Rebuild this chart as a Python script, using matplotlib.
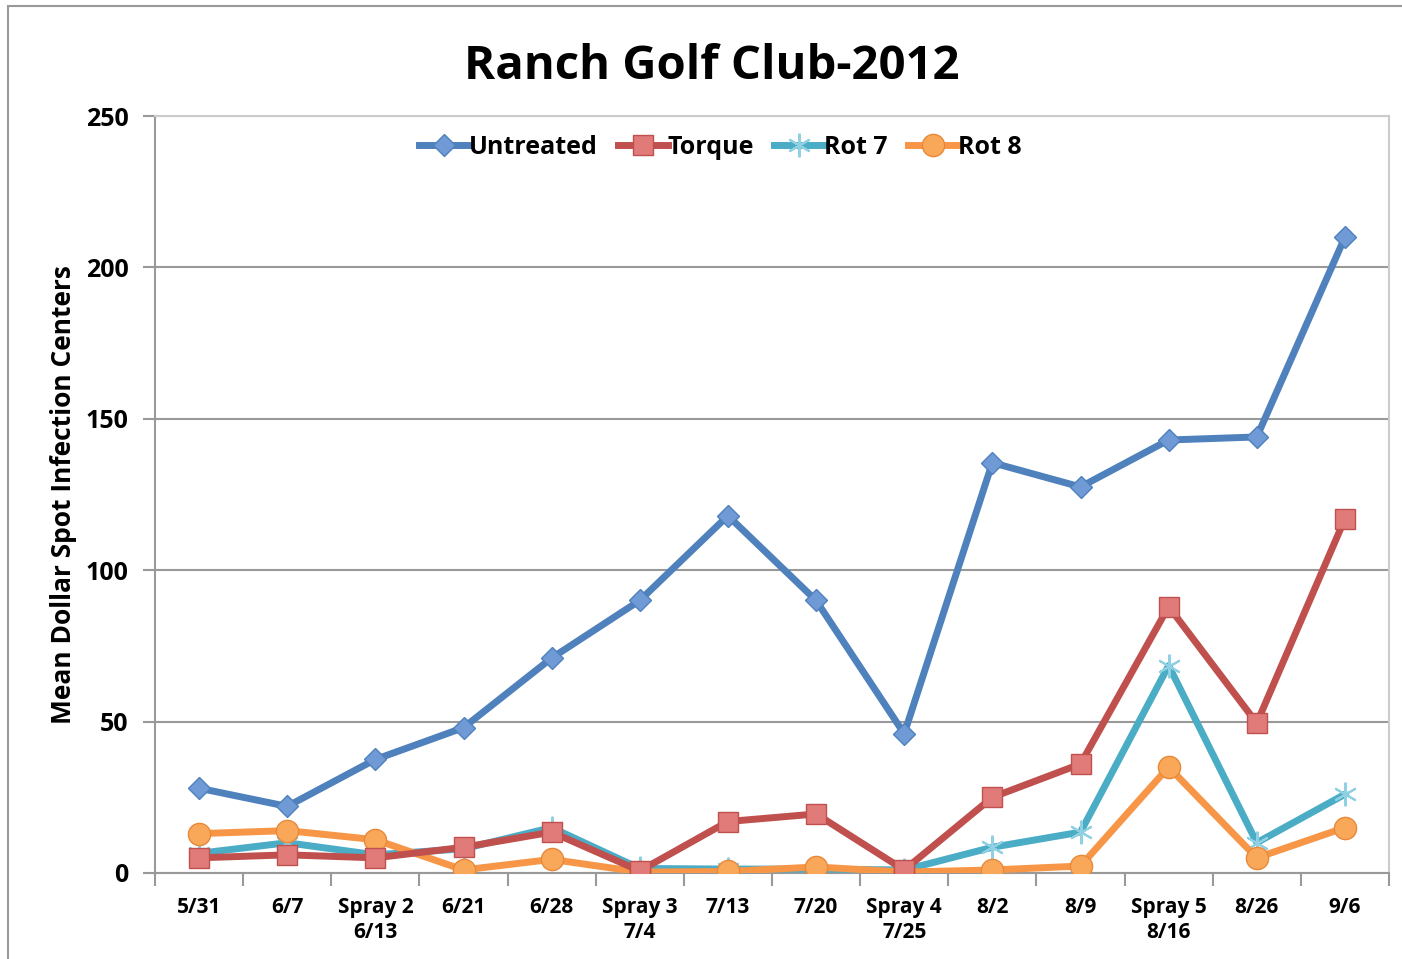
import matplotlib
matplotlib.use("Agg")
import matplotlib.pyplot as plt
from matplotlib.patches import Rectangle

plt.rcParams['font.family'] = ['Open Sans', 'DejaVu Sans']
plt.rcParams['font.weight'] = 'bold'

# Data
dates = ["5/31", "6/7", "Spray 2\n6/13", "6/21", "6/28", "Spray 3\n7/4", "7/13",
         "7/20", "Spray 4\n7/25", "8/2", "8/9", "Spray 5\n8/16", "8/26", "9/6"]
untreated = [28, 22, 37.5, 48, 71, 90, 118, 90, 46, 135.5, 127.5, 143, 144, 210]
torque = [5, 6, 5, 8.5, 13.5, 0.7, 17, 19.5, 1, 25, 36, 88, 49.5, 117]
rot7 = [6.5, 10, 6, 8, 15, 1.5, 1.3, 1.3, 1, 8.5, 13.5, 68.5, 10, 26]
rot8 = [13, 14, 11, 1, 4.5, 0.3, 0.5, 2, 0.3, 1, 2.3, 35, 5, 15]

fig = plt.figure(figsize=(14.02, 9.59), dpi=100)
ax = fig.add_axes([155 / 1402, 86 / 959, (1389 - 155) / 1402, (873 - 116) / 959])

# outer chart border (left and top visible)
fig.patches.append(Rectangle((8 / 1402, -0.1), 1.2, (953 / 959) + 0.1,
                             transform=fig.transFigure, fill=False,
                             edgecolor='#999999', linewidth=1.5))

x = range(len(dates))
ax.plot(x, untreated, color='#4f81bd', lw=5, marker='D', ms=11,
        mfc='#6f9ad6', mec='#4f81bd', label='Untreated', zorder=5)
ax.plot(x, torque, color='#c0504d', lw=5, marker='s', ms=15,
        mfc='#e07b79', mec='#c0504d', label='Torque', zorder=4)
ax.plot(x, rot7, color='#4bacc6', lw=5, marker=(6, 2, 0), ms=17,
        mew=1.5, mec='#8fd1e3', label='Rot 7', zorder=3)
ax.plot(x, rot8, color='#f79646', lw=5, marker='o', ms=16,
        mfc='#f9a85a', mec='#e8893a', label='Rot 8', zorder=3)

ax.set_xlim(-0.5, len(dates) - 0.5)
ax.set_ylim(0, 250)
ax.set_yticks(range(0, 251, 50))
ax.yaxis.grid(True, color='#999999', lw=1.5)
ax.set_axisbelow(True)

ax.set_xticks([i + 0.5 for i in range(-1, len(dates))], minor=False)
ax.set_xticklabels([])
ax.set_xticks(list(x), minor=True)
ax.set_xticklabels(dates, minor=True, fontsize=15, fontweight='bold',
                   linespacing=1.25)
ax.tick_params(axis='x', which='minor', length=0, pad=17)
ax.tick_params(axis='x', which='major', length=9, width=1.5, color='#999999')
ax.tick_params(axis='y', length=9, width=1.5, color='#999999', labelsize=18, pad=10)
for t in ax.get_yticklabels():
    t.set_fontweight('bold')

for side in ['left', 'bottom']:
    ax.spines[side].set_color('#999999')
    ax.spines[side].set_linewidth(1.5)
for side in ['top', 'right']:
    ax.spines[side].set_color('#cccccc')
    ax.spines[side].set_linewidth(1.5)

ax.set_ylabel('Mean Dollar Spot Infection Centers', fontsize=19,
              fontweight='bold', labelpad=6)
fig.text(0.508, 0.931, 'Ranch Golf Club-2012', ha='center', va='center',
         fontsize=34, fontweight='bold')

ax.legend(loc='upper center', bbox_to_anchor=(0.458, 1.005), ncol=4, frameon=False,
          handlelength=2.0, handletextpad=0.0, columnspacing=0.8,
          prop={'weight': 'bold', 'size': 18})

fig.savefig('out.png', dpi=100)
